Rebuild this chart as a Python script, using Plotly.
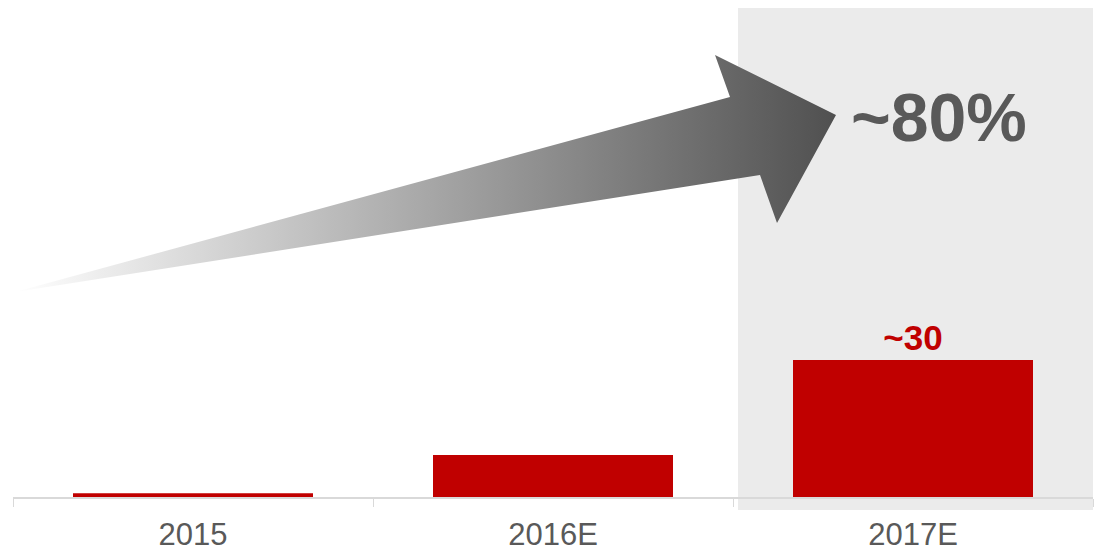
import plotly.graph_objects as go

# ---- data ----
categories = ["2015", "2016E", "2017E"]
values = [0.8, 9.2, 30]
bar_labels = ["", "", "~30"]
growth_label = "~80%"
side_label = "red"

W, H = 1096, 557
ML, MR, MT, MB = 13, 3, 0, 60
PX0, PX1 = ML, W - MR          # plot area pixel x range
PY0, PY1 = MT, H - MB          # plot area pixel y range

FONT = "Liberation Sans, Arial, sans-serif"

fig = go.Figure()

fig.add_trace(go.Bar(
    x=categories, y=values,
    marker=dict(color="#C00000", line=dict(width=0)),
    text=bar_labels, textposition="outside",
    textfont=dict(family=FONT, size=35, color="#C00000", weight="bold"),
    cliponaxis=False,
    hoverinfo="skip",
))

# decorative gradient arrow drawn on a pixel-space overlay axis
arrow_x = [15, 730, 715, 836, 777, 760, 15]
arrow_y = [292, 97, 55, 115, 223, 175, 292]
fig.add_trace(go.Scatter(
    x=arrow_x, y=arrow_y, xaxis="x2", yaxis="y2",
    mode="lines", fill="toself", line=dict(width=0),
    fillgradient=dict(type="horizontal",
                      colorscale=[[0, "#FFFFFF"], [1, "#505050"]]),
    hoverinfo="skip", showlegend=False,
))

def px(xp):
    return (xp - PX0) / (PX1 - PX0)

def py(yp):
    return (PY1 - yp) / (PY1 - PY0)

fig.add_shape(type="rect", xref="paper", yref="paper",
              x0=px(738), x1=px(1093), y0=py(510), y1=py(8),
              fillcolor="#EBEBEB", line=dict(width=0), layer="below")

fig.add_annotation(x=939, y=117, xref="x2", yref="y2", text=growth_label,
                   showarrow=False, xanchor="center", yanchor="middle",
                   font=dict(family=FONT, size=68, color="#595959", weight="bold"))
fig.add_annotation(x=0, y=192, xref="x2", yref="y2", text=side_label,
                   showarrow=False, xanchor="left", yanchor="middle",
                   font=dict(family=FONT, size=30, color="#404040", weight="bold"))

fig.update_layout(
    width=W, height=H,
    margin=dict(l=ML, r=MR, t=MT, b=MB, pad=0),
    paper_bgcolor="white", plot_bgcolor="rgba(0,0,0,0)",
    showlegend=False, bargap=1/3,
    xaxis=dict(type="category", showgrid=False, zeroline=False,
               showline=True, linecolor="#D9D9D9", linewidth=1.5,
               ticks="outside", tickson="boundaries", ticklen=8,
               tickcolor="#D9D9D9", tickwidth=1, ticklabelstandoff=9,
               tickfont=dict(family=FONT, size=31, color="#595959")),
    yaxis=dict(range=[0, 30 * (PY1 - PY0) / 137], visible=False,
               showgrid=False, zeroline=False),
    xaxis2=dict(overlaying="x", range=[PX0, PX1], visible=False),
    yaxis2=dict(overlaying="y", range=[PY1, PY0], visible=False),
)

fig.write_html("out.html")
